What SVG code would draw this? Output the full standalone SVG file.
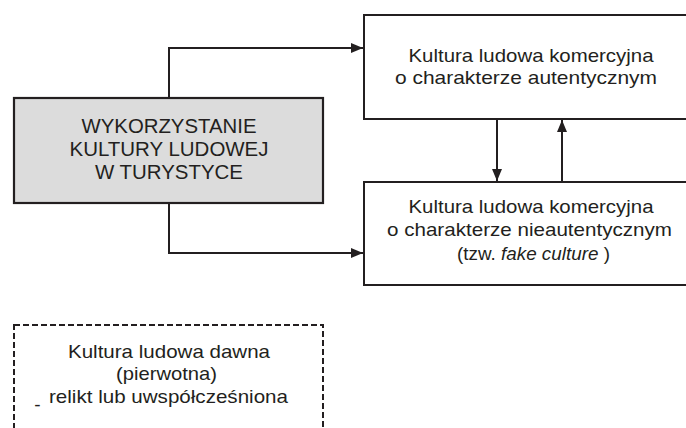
<svg xmlns="http://www.w3.org/2000/svg" width="686" height="428" viewBox="0 0 686 428">
  <defs>
    <marker id="arrow" viewBox="0 0 12 10" refX="12" refY="5" markerWidth="12" markerHeight="10" markerUnits="userSpaceOnUse" orient="auto">
      <path d="M0,0 L12,5 L0,10 Z" fill="#231f20"/>
    </marker>
    <style>
      .box { fill: #ffffff; stroke: #231f20; stroke-width: 2; }
      .main { fill: #dcdcdc; stroke: #231f20; stroke-width: 2.2; }
      .dashed { fill: none; stroke: #231f20; stroke-width: 2; stroke-dasharray: 6 3; }
      .conn { fill: none; stroke: #231f20; stroke-width: 2; }
      text { font-family: "Liberation Sans", Arial, sans-serif; fill: #231f20; text-anchor: middle; }
      .lbl { font-size: 19px; }
      .cap { font-size: 20px; }
    </style>
  </defs>

  <!-- connectors -->
  <g id="connectors">
    <path class="conn" d="M169,98 V48 H363" marker-end="url(#arrow)"/>
    <path class="conn" d="M169,203 V253 H363" marker-end="url(#arrow)"/>
    <path class="conn" d="M497,119 V181" marker-end="url(#arrow)"/>
    <path class="conn" d="M562,182 V120" marker-end="url(#arrow)"/>
  </g>

  <!-- central topic -->
  <g id="wykorzystanie">
    <rect class="main" x="14" y="98" width="309" height="105"/>
    <text class="cap" x="169" y="132.5" textLength="175" lengthAdjust="spacingAndGlyphs">WYKORZYSTANIE</text>
    <text class="cap" x="169" y="156" textLength="199" lengthAdjust="spacingAndGlyphs">KULTURY LUDOWEJ</text>
    <text class="cap" x="169" y="178.5" textLength="148" lengthAdjust="spacingAndGlyphs">W TURYSTYCE</text>
  </g>

  <!-- authentic commercial culture -->
  <g id="autentyczna">
    <rect class="box" x="364" y="15" width="340" height="104"/>
    <text class="lbl" x="531" y="62" textLength="245" lengthAdjust="spacingAndGlyphs">Kultura ludowa komercyjna</text>
    <text class="lbl" x="526" y="84" textLength="262" lengthAdjust="spacingAndGlyphs">o charakterze autentycznym</text>
  </g>

  <!-- non-authentic commercial culture -->
  <g id="nieautentyczna">
    <rect class="box" x="364" y="182" width="340" height="103"/>
    <text class="lbl" x="531" y="213" textLength="245" lengthAdjust="spacingAndGlyphs">Kultura ludowa komercyjna</text>
    <text class="lbl" x="529.5" y="235.5" textLength="285" lengthAdjust="spacingAndGlyphs">o charakterze nieautentycznym</text>
    <text class="lbl" x="533.5" y="260" textLength="153" lengthAdjust="spacingAndGlyphs">(tzw. <tspan font-style="italic">fake culture</tspan> )</text>
  </g>

  <!-- old folk culture -->
  <g id="dawna">
    <rect class="dashed" x="14" y="325" width="309" height="130"/>
    <text class="lbl" x="169" y="357.5" textLength="202" lengthAdjust="spacingAndGlyphs">Kultura ludowa dawna</text>
    <text class="lbl" x="166.5" y="380" textLength="101" lengthAdjust="spacingAndGlyphs">(pierwotna)</text>
    <text class="lbl" x="168.5" y="402.5" textLength="239" lengthAdjust="spacingAndGlyphs">relikt lub uwspółcześniona</text>
    <text class="lbl" x="37.5" y="411">-</text>
  </g>
</svg>
